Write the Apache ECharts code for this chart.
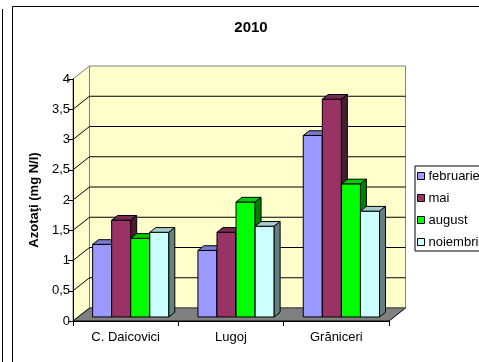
<!DOCTYPE html>
<html>
<head>
<meta charset="utf-8">
<script src="https://cdn.jsdelivr.net/npm/echarts@6/dist/echarts.min.js"></script>
<style>
  html, body { margin: 0; padding: 0; background: #fff; }
  #chart { width: 479px; height: 362px; }
</style>
</head>
<body>
<div id="chart"></div>
<script>
// Nitrate concentrations per station, by sampling month (2010)
const categories = ['C. Daicovici', 'Lugoj', 'Grăniceri'];
const seriesNames = ['februarie', 'mai', 'august', 'noiembrie'];
const februarie = [1.2, 1.1, 3.0];
const mai = [1.6, 1.4, 3.6];
const august = [1.3, 1.9, 2.2];
const noiembrie = [1.4, 1.5, 1.75];
const yTicks = [0, 0.5, 1, 1.5, 2, 2.5, 3, 3.5, 4];

const seriesValues = [februarie, mai, august, noiembrie];
const seriesColors = ['#9999FF', '#993366', '#00FF00', '#CCFFFF'];

// Pseudo-3D geometry: depth offset of the back wall, bar depth slot and bar widths
const DEPTH = [16.5, -13];
const BAR_FRONT = 0.31, BAR_BACK = 0.67;
const GROUP_GAP = 0.1375, BAR_W = 0.181;

function shade(hex, k) {
  const n = parseInt(hex.slice(1), 16);
  const r = Math.round(((n >> 16) & 255) * k);
  const g = Math.round(((n >> 8) & 255) * k);
  const b = Math.round((n & 255) * k);
  return 'rgb(' + r + ',' + g + ',' + b + ')';
}

function poly(points, fill, stroke) {
  return { type: 'polygon', shape: { points: points },
           style: { fill: fill, stroke: stroke || '#000', lineWidth: 1 } };
}
function seg(p1, p2, stroke) {
  return { type: 'polyline', shape: { points: [p1, p2] },
           style: { fill: null, stroke: stroke, lineWidth: 1 } };
}

// Walls, floor and the gridlines drawn on them
function renderWalls(params, api) {
  const band = api.size([1, 0])[0];
  const x0 = api.coord([0, 0])[0] - band / 2;
  const x1 = x0 + band * categories.length;
  const y0 = api.coord([0, 0])[1];
  const yTop = api.coord([0, yTicks[yTicks.length - 1]])[1];
  const dx = DEPTH[0], dy = DEPTH[1];
  const children = [];
  children.push(poly([[x0, y0], [x0, yTop], [x0 + dx, yTop + dy], [x0 + dx, y0 + dy]], '#FFFFCC', '#808080'));
  children.push(poly([[x0 + dx, yTop + dy], [x1 + dx, yTop + dy], [x1 + dx, y0 + dy], [x0 + dx, y0 + dy]], '#FFFFCC', '#808080'));
  yTicks.forEach(function (t, i) {
    if (i === 0 || i === yTicks.length - 1) return;
    const y = api.coord([0, t])[1];
    children.push({ type: 'polyline', shape: { points: [[x0, y], [x0 + dx, y + dy], [x1 + dx, y + dy]] },
                    style: { fill: null, stroke: '#000', lineWidth: 1 } });
  });
  children.push(poly([[x0, y0], [x0 + dx, y0 + dy], [x1 + dx, y0 + dy], [x1, y0]], '#808080', '#000'));
  children.push(seg([x0 + dx, y0 + dy], [x1 + dx, y0 + dy], '#808080'));
  return { type: 'group', children: children };
}

function makeBarRenderer(s) {
  const color = seriesColors[s];
  const topColor = shade(color, 0.8);
  const sideColor = shade(color, 0.5);
  return function (params, api) {
    const ci = api.value(0), v = api.value(1);
    const band = api.size([1, 0])[0];
    const base = api.coord([ci, 0]);
    const topPt = api.coord([ci, v]);
    const xl = base[0] - band / 2 + band * (GROUP_GAP + s * BAR_W);
    const xr = xl + band * BAR_W;
    const fx = DEPTH[0] * BAR_FRONT, fy = DEPTH[1] * BAR_FRONT;
    const bx = DEPTH[0] * BAR_BACK, by = DEPTH[1] * BAR_BACK;
    const yb = base[1], yt = topPt[1];
    return {
      type: 'group',
      children: [
        poly([[xl + fx, yb + fy], [xr + fx, yb + fy], [xr + fx, yt + fy], [xl + fx, yt + fy]], color),
        poly([[xl + fx, yt + fy], [xr + fx, yt + fy], [xr + bx, yt + by], [xl + bx, yt + by]], topColor),
        poly([[xr + fx, yb + fy], [xr + bx, yb + by], [xr + bx, yt + by], [xr + fx, yt + fy]], sideColor)
      ]
    };
  };
}

const FONT = '"Liberation Sans", Arial, sans-serif';

const series = [{
  name: 'walls', type: 'custom', z: 1, silent: true,
  data: [[0, 0]], renderItem: renderWalls
}];
seriesNames.forEach(function (name, s) {
  series.push({
    name: name, type: 'custom', z: 2 + s, silent: true,
    itemStyle: { color: seriesColors[s] },
    data: categories.map(function (c, i) { return [i, seriesValues[s][i]]; }),
    renderItem: makeBarRenderer(s)
  });
});

const chart = echarts.init(document.getElementById('chart'), null, { renderer: 'canvas' });
chart.setOption({
  animation: false,
  backgroundColor: '#fff',
  title: {
    text: '2010', left: 251, top: 20, padding: 0, textAlign: 'center',
    textStyle: { fontFamily: FONT, fontSize: 15, fontWeight: 'bold', color: '#000' }
  },
  legend: {
    orient: 'vertical', left: 415, top: 166,
    padding: [3, 10, 2, 2], itemGap: 8,
    itemWidth: 7, itemHeight: 7, icon: 'rect',
    borderColor: '#000', borderWidth: 1,
    textStyle: { fontFamily: FONT, fontSize: 13, color: '#000', lineHeight: 14, padding: [0, 0, 0, -1] },
    data: seriesNames.map(function (n, s) {
      return { name: n, itemStyle: { color: seriesColors[s], borderColor: '#000', borderWidth: 1 } };
    })
  },
  grid: { left: 73, top: 79, width: 316, height: 242, containLabel: false },
  xAxis: {
    type: 'category', data: categories, z: 10,
    axisLine: { lineStyle: { color: '#000', width: 1 } },
    axisTick: { show: true, length: 5, lineStyle: { color: '#000' } },
    axisLabel: { fontFamily: FONT, fontSize: 13, color: '#000', margin: 10 },
    splitLine: { show: false }
  },
  yAxis: {
    type: 'value', min: 0, max: 4, interval: 0.5, z: 10,
    name: 'Azotaţi (mg N/l)', nameLocation: 'middle', nameGap: 31,
    nameTextStyle: { fontFamily: FONT, fontSize: 13, fontWeight: 'bold', color: '#000' },
    axisLine: { show: true, lineStyle: { color: '#000', width: 1 } },
    axisTick: { show: true, length: 5, lineStyle: { color: '#000' } },
    axisLabel: {
      fontFamily: FONT, fontSize: 13, color: '#000', margin: 3,
      formatter: function (v) { return String(v).replace('.', ','); }
    },
    splitLine: { show: false }
  },
  graphic: [
    { type: 'rect', shape: { x: 12.5, y: 6.5, width: 500, height: 400 },
      style: { fill: null, stroke: '#000', lineWidth: 1 }, silent: true },
    { type: 'line', shape: { x1: 2.5, y1: 9, x2: 2.5, y2: 362 },
      style: { stroke: '#000', lineWidth: 1 }, silent: true }
  ],
  series: series
});
</script>
</body>
</html>
